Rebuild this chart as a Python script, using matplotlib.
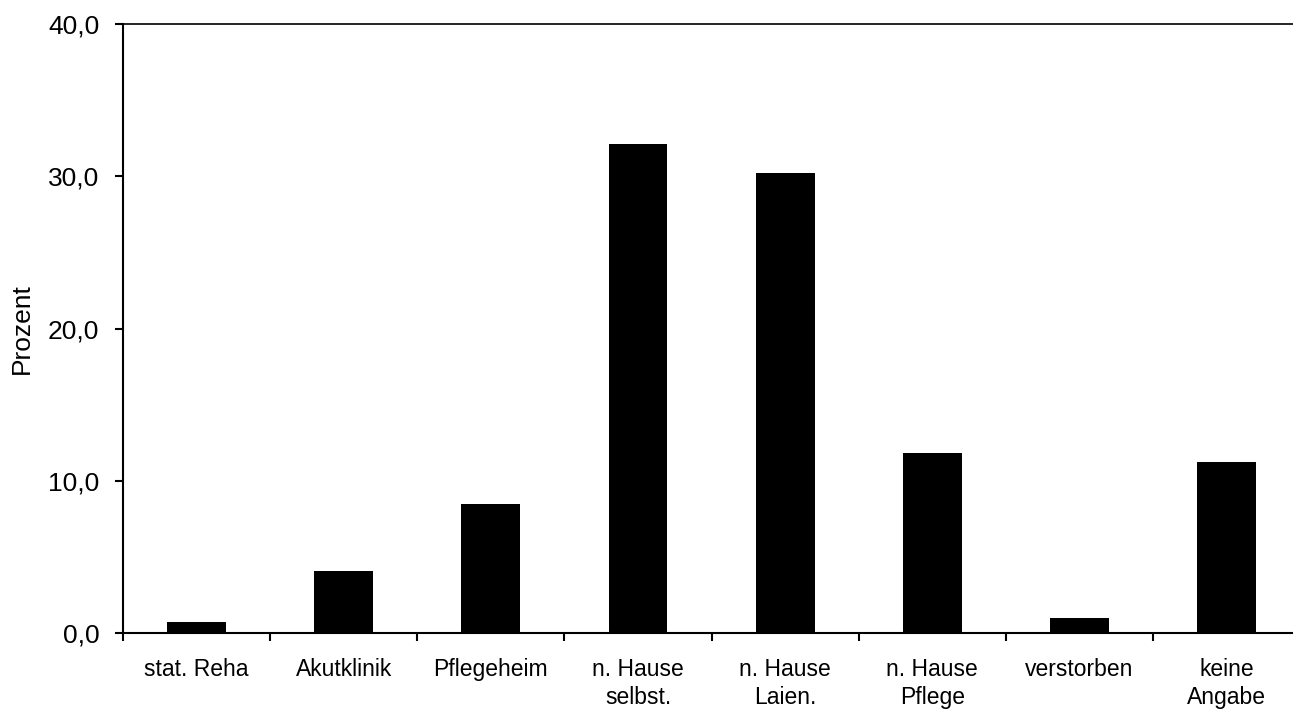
import numpy as np
import matplotlib
matplotlib.use('Agg')
import matplotlib.pyplot as plt
from matplotlib.ticker import FixedLocator, FuncFormatter

plt.rcParams['font.family'] = ['Liberation Sans', 'DejaVu Sans']

categories = ['stat. Reha', 'Akutklinik', 'Pflegeheim', 'n. Hause\nselbst.',
              'n. Hause\nLaien.', 'n. Hause\nPflege', 'verstorben', 'keine\nAngabe']
values = [0.7, 4.1, 8.5, 32.1, 30.2, 11.8, 1.0, 11.2]
y_ticks = [0, 10, 20, 30, 40]

fig = plt.figure(figsize=(12.93, 7.11), dpi=100)
ax = fig.add_axes([0.0951, 0.1097, 0.9105, 0.8565])

x = np.arange(len(categories))
ax.bar(x, values, width=0.4, color='black')

ax.set_xlim(-0.5, len(categories) - 0.5)
ax.set_ylim(0, 40)

ax.set_xticks(x)
ax.set_xticklabels(categories, fontsize=16.5, linespacing=1.25)
ax.xaxis.set_minor_locator(FixedLocator(np.arange(len(categories)) - 0.5))
ax.tick_params(axis='x', which='major', length=0, pad=18)
ax.tick_params(axis='x', which='minor', length=6, width=1.5, direction='out')

ax.set_yticks(y_ticks)
ax.yaxis.set_major_formatter(FuncFormatter(lambda v, p: f'{v:.1f}'.replace('.', ',')))
ax.tick_params(axis='y', length=6, width=1.5, direction='out', pad=11, labelsize=19)

ax.set_ylabel('Prozent', fontsize=19, labelpad=10)

for side in ['left', 'bottom']:
    ax.spines[side].set_linewidth(1.5)
ax.spines['top'].set_linewidth(1.2)
ax.spines['right'].set_visible(False)

fig.savefig('out.png', dpi=100)
